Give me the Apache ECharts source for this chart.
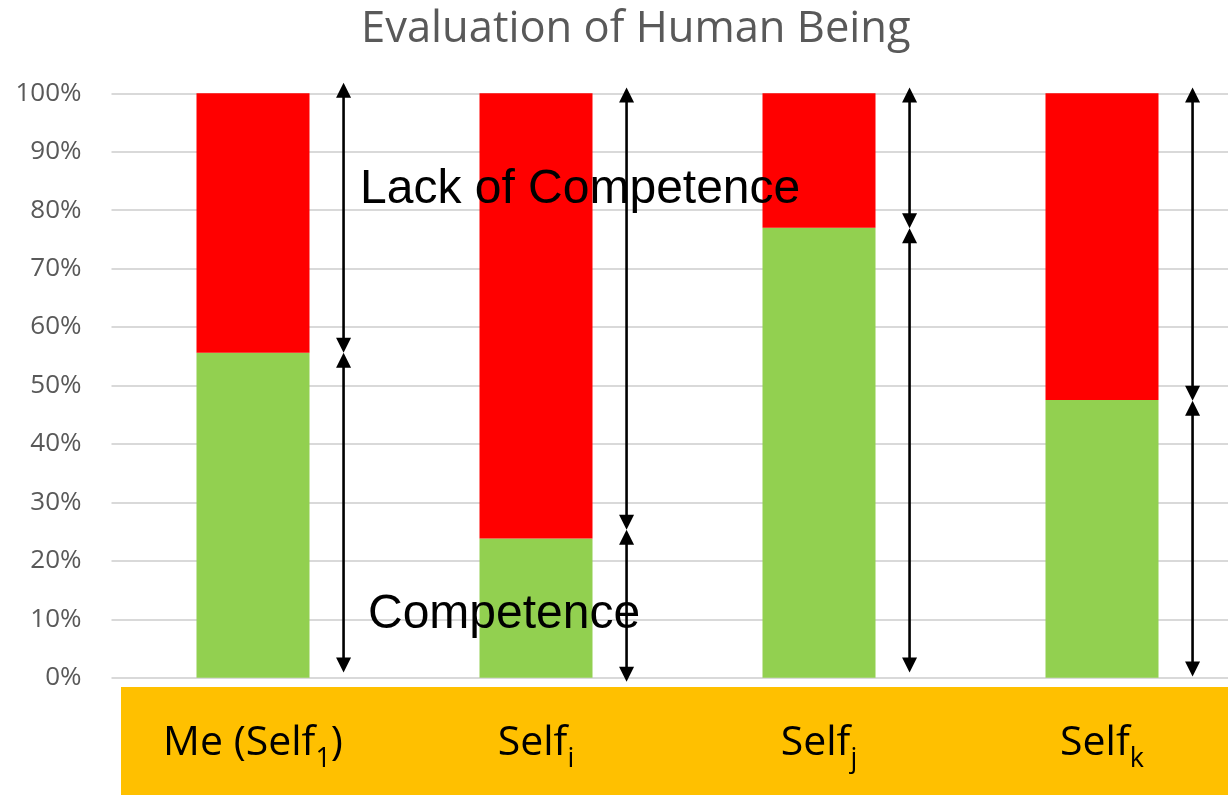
<!DOCTYPE html>
<html>
<head>
<meta charset="utf-8">
<script src="https://cdn.jsdelivr.net/npm/echarts@6/dist/echarts.min.js"></script>
<style>
html,body{margin:0;padding:0;background:#fff;}
#chart{width:1228px;height:795px;}
</style>
</head>
<body>
<div id="chart"></div>
<script>
// ---- data ----
const categories = ['Me (Self_1)', 'Self_i', 'Self_j', 'Self_k'];
const competence = [55.6, 23.8, 77.0, 47.5];
const lackOfCompetence = [44.4, 76.2, 23.0, 52.5];
// double arrows: [top end, split point, bottom end] in % units
const arrowTop = [101.8, 101.0, 101.0, 101.0];
const arrowSplit = [55.6, 25.3, 76.9, 47.4];
const arrowBottom = [0.9, -0.7, 0.9, 0.2];
const yTicks = [0, 10, 20, 30, 40, 50, 60, 70, 80, 90, 100];
const titleText = 'Evaluation of Human Being';
const noteTop = 'Lack of Competence';
const noteBottom = 'Competence';

const chart = echarts.init(document.getElementById('chart'));

const arrowData = categories.map((c, i) => [i, arrowTop[i], arrowSplit[i], arrowBottom[i]]);

function head(x, y, dir) {
  // dir: -1 pointing up, +1 pointing down; (x,y) is the tip
  const L = 15, W = 7.5;
  return {
    type: 'polygon',
    shape: { points: [[x, y], [x - W, y - dir * L], [x + W, y - dir * L]] },
    style: { fill: '#000' }
  };
}

function renderArrow(params, api) {
  const i = api.value(0);
  const band = api.size([1, 0])[0];
  const x = api.coord([i, 0])[0] + band * 0.32;
  const yT = api.coord([i, api.value(1)])[1];
  const yM = api.coord([i, api.value(2)])[1];
  const yB = api.coord([i, api.value(3)])[1];
  const ls = { stroke: '#000', lineWidth: 2.6 };
  return {
    type: 'group',
    children: [
      { type: 'line', shape: { x1: x, y1: yT + 8, x2: x, y2: yM - 8 }, style: ls },
      { type: 'line', shape: { x1: x, y1: yM + 8, x2: x, y2: yB - 8 }, style: ls },
      head(x, yT, -1),
      head(x, yM, 1),
      head(x, yM, -1),
      head(x, yB, 1)
    ]
  };
}

chart.setOption({
  animation: false,
  backgroundColor: '#ffffff',
  title: {
    text: titleText,
    left: 361,
    top: 8,
    padding: 0,
    textStyle: { fontFamily: 'Open Sans', fontSize: 43.5, fontWeight: 'normal', color: '#595959' }
  },
  grid: { left: 111.5, width: 1132, top: 93.3, height: 584.4, containLabel: false, outerBoundsMode: 'none' },
  xAxis: {
    type: 'category',
    data: categories,
    z: 10,
    axisLine: { show: false },
    axisTick: { show: false },
    axisLabel: {
      margin: 36,
      interval: 0,
      formatter: v => '{a|' + v.replace(/_(\w)/, '}{s|$1}{a|') + '}',
      rich: {
        a: { fontFamily: 'Open Sans', fontSize: 41, color: '#000', lineHeight: 60 },
        s: { fontFamily: 'Open Sans', fontSize: 27, color: '#000', lineHeight: 27, padding: [32, 0, 0, 0] }
      }
    }
  },
  yAxis: {
    type: 'value',
    min: 0,
    max: 100,
    interval: 10,
    axisLine: { show: false },
    axisTick: { show: false },
    axisLabel: {
      margin: 30,
      fontFamily: 'Open Sans',
      fontSize: 26,
      color: '#595959',
      formatter: v => (yTicks.indexOf(v) >= 0 ? v + '%' : '')
    },
    splitLine: { lineStyle: { color: '#D9D9D9', width: 2 } }
  },
  graphic: [
    {
      type: 'rect',
      z: -10,
      shape: { x: 121, y: 687, width: 1107, height: 108 },
      style: { fill: '#FFC000' }
    },
    {
      type: 'text',
      z: 100,
      x: 360,
      y: 190,
      style: { text: noteTop, font: '48px "Liberation Sans", Arial, sans-serif', fill: '#000', textVerticalAlign: 'middle', verticalAlign: 'middle' }
    },
    {
      type: 'text',
      z: 100,
      x: 368,
      y: 615,
      style: { text: noteBottom, font: '48px "Liberation Sans", Arial, sans-serif', fill: '#000', textVerticalAlign: 'middle', verticalAlign: 'middle' }
    }
  ],
  series: [
    {
      name: 'Competence',
      type: 'bar',
      stack: 'total',
      barWidth: 113,
      data: competence,
      itemStyle: { color: '#92D050' }
    },
    {
      name: 'Lack of Competence',
      type: 'bar',
      stack: 'total',
      barWidth: 113,
      data: lackOfCompetence,
      itemStyle: { color: '#FF0000' }
    },
    {
      type: 'custom',
      renderItem: renderArrow,
      data: arrowData,
      z: 5,
      clip: false
    }
  ]
});
</script>
</body>
</html>
